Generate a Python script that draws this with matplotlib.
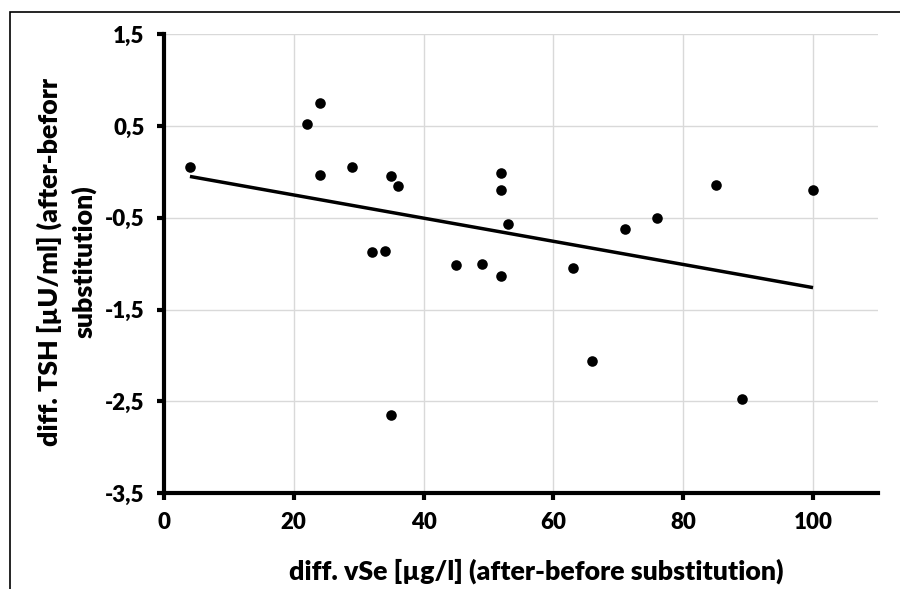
import numpy as np
import matplotlib
matplotlib.use('Agg')
import matplotlib.pyplot as plt
from matplotlib.patches import Rectangle

# values
vse_diff = [4, 22, 24, 24, 29, 35, 36, 32, 34, 35, 45, 49, 52, 52, 52, 53,
            63, 66, 71, 76, 85, 89, 100]
tsh_diff = [0.05, 0.52, 0.75, -0.03, 0.05, -0.05, -0.15, -0.87, -0.86, -2.65,
            -1.02, -1.00, -0.01, -0.20, -1.13, -0.57, -1.05, -2.06, -0.62,
            -0.50, -0.14, -2.48, -0.20]

x_ticks = [0, 20, 40, 60, 80, 100]
x_ticklabels = ['0', '20', '40', '60', '80', '100']
y_ticks = [-3.5, -2.5, -1.5, -0.5, 0.5, 1.5]
y_ticklabels = ['-3,5', '-2,5', '-1,5', '-0,5', '0,5', '1,5']

x_title = 'diff. vSe [µg/l] (after-before substitution)'
y_title = 'diff. TSH [µU/ml] (after-beforr\nsubstitution)'

plt.rcParams['font.family'] = ['Lato', 'DejaVu Sans']
plt.rcParams['font.weight'] = 'heavy'

fig = plt.figure(figsize=(9, 5.89), dpi=100)
ax = fig.add_axes([0.1822, 0.1630, 0.7933, 0.7788])

# linear trend, like excel's trendline
k, b = np.polyfit(vse_diff, tsh_diff, 1)
xs = np.array([min(vse_diff), max(vse_diff)])
ax.plot(xs, k * xs + b, color='black', lw=2.5, zorder=3, solid_capstyle='butt')
ax.scatter(vse_diff, tsh_diff, s=58, color='black', zorder=4, linewidths=0)

ax.set_xlim(0, 110)
ax.set_ylim(-3.5, 1.5)
ax.set_xticks(x_ticks)
ax.set_xticklabels(x_ticklabels)
ax.set_yticks(y_ticks)
ax.set_yticklabels(y_ticklabels)

ax.grid(True, color='#d9d9d9', lw=1.0, zorder=0)
ax.set_axisbelow(True)
for side in ['top', 'right']:
    ax.spines[side].set_visible(False)
for side in ['left', 'bottom']:
    ax.spines[side].set_linewidth(3.0)
    ax.spines[side].set_zorder(5)

ax.tick_params(axis='both', direction='out', length=5, width=3.0,
               labelsize=16, colors='black')
ax.tick_params(axis='x', pad=9)
ax.tick_params(axis='y', pad=9)

fig.text(536 / 900, 1 - 571 / 589, x_title, fontsize=19.3, fontweight='heavy',
         ha='center', va='center')
fig.text(66.5 / 900, 1 - 262 / 589, y_title, fontsize=19.3, fontweight='heavy',
         ha='center', va='center', rotation=90, multialignment='center',
         linespacing=1.4)

# frame round the chart (cut at right and bottom in the reference)
fig.patches.append(Rectangle((10 / 900, -0.5), 2, 1.5 - 12 / 589,
                             transform=fig.transFigure, fill=False,
                             edgecolor='black', lw=1.2))

fig.savefig('out.png', dpi=100)
